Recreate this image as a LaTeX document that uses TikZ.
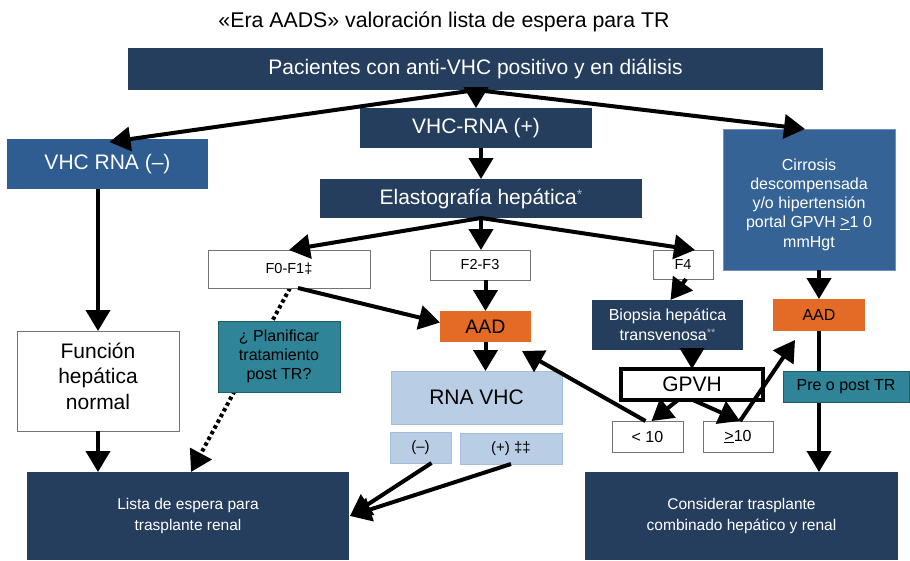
\documentclass[tikz,border=0pt]{standalone}
\usepackage{fontspec}
\setmainfont{Liberation Sans}
\usetikzlibrary{arrows.meta,calc,backgrounds}
\definecolor{navy}{HTML}{263E5E}
\definecolor{midblue}{HTML}{2F5D92}
\definecolor{cirblue}{HTML}{356395}
\definecolor{orng}{HTML}{E36B25}
\definecolor{teal}{HTML}{2F8498}
\definecolor{lblue}{HTML}{B9CDE5}
\definecolor{lbord}{HTML}{A6BEDC}
\newcommand\bx[7]{\node[#1,anchor=north west,minimum width=#5pt,minimum height=#6pt] (#2) at (#3,#4) {#7};}
\begin{document}
\begin{tikzpicture}[x=1pt,y=-1pt,
  base/.style={inner sep=0pt,outer sep=0pt,align=center},
  navybox/.style={base,fill=navy,text=white},
  midbox/.style={base,fill=midblue,text=white},
  cirbox/.style={base,fill=cirblue,text=white,draw=cirblue!70!white,line width=0.6pt},
  orgbox/.style={base,fill=orng,text=black},
  tealbox/.style={base,fill=teal,text=black,draw=teal!70!black,line width=0.6pt},
  lbbox/.style={base,fill=lblue,text=black,draw=lbord,line width=0.6pt},
  whbox/.style={base,fill=white,text=black,draw=black!55,line width=0.8pt},
  gpbox/.style={base,fill=white,text=black,draw=black,line width=3.5pt},
  txt/.style={base},
  arr/.style={line width=4pt,-{Triangle[length=21pt,width=24pt]}},
  dots/.style={line width=4pt,dash pattern=on 3.5pt off 3pt,-{Triangle[length=21pt,width=24pt]}},
  big/.style={font=\fontsize{21}{25.5}\selectfont},
  aadf/.style={font=\fontsize{19.5}{24}\selectfont},
  sm/.style={font=\fontsize{16}{19.3}\selectfont},
  fl/.style={font=\fontsize{14.5}{18}\selectfont},
  xs/.style={font=\fontsize{15.5}{21}\selectfont},
  xxs/.style={font=\fontsize{15}{18}\selectfont}]
\useasboundingbox (0,0) rectangle (910,560);
% title
\node[base,font=\fontsize{21.3}{24}\selectfont] (title) at (444,22) {«Era AADS» valoración lista de espera para TR};
% boxes
\bx{navybox,big}{pac}{128}{48}{695}{42}{\raisebox{-2pt}{Pacientes con anti-VHC positivo y en diálisis}}
\bx{navybox,big}{vhcp}{360}{108}{232}{40}{VHC-RNA (+)}
\bx{midbox,big}{vhcn}{7}{139}{201}{50}{VHC RNA (–)}
\bx{cirbox}{cir}{723}{129}{172}{141}{}
\node[txt,sm,text=white] (cirt) at ($(cir.center)+(0,5)$) {Cirrosis\\descompensada\\y/o hipertensión\\portal GPVH \underline{>}1 0\\mmHgt};
\bx{navybox,big}{elas}{320}{179}{322}{39}{Elastografía hepática\raisebox{5pt}{\color{white!62!navy}\fontsize{14}{14}\selectfont *}}
\bx{whbox,fl}{f01}{208}{250}{162}{38}{F0-F1‡}
\bx{whbox,fl}{f23}{430}{250}{100}{30}{F2-F3}
\bx{whbox,fl}{f4}{653}{250}{60}{29}{F4}
\bx{orgbox,aadf}{aad}{440}{311}{91}{31}{AAD}
\bx{navybox,sm}{biop}{592}{300}{151}{50}{Biopsia hepática\\[0.5pt]transvenosa\raisebox{4pt}{\color{white!62!navy}\fontsize{11}{11}\selectfont **}}
\bx{orgbox,sm}{aadr}{773}{299}{92}{32}{AAD}
\bx{whbox}{fun}{17}{331}{162}{100}{}
\node[txt,big] (funt) at ($(fun.center)+(0,-5)$) {Función\\hepática\\normal};
\bx{tealbox,sm}{plan}{218}{321}{122}{71}{¿ Planificar\\tratamiento\\post TR?}
\bx{lbbox,big}{rna}{391}{371}{171}{53}{RNA VHC}
\bx{gpbox,big}{gp}{621}{369}{142}{31}{GPVH}
\bx{tealbox,sm}{pre}{783}{371}{126}{31}{Pre o post TR}
\bx{lbbox,xxs}{neg}{390}{432}{61}{31}{(–)}
\bx{lbbox,xxs}{pos}{460}{433}{102}{31}{(+) ‡‡}
\bx{whbox,sm}{lt}{612}{421}{71}{31}{< 10}
\bx{whbox,sm}{ge}{703}{421}{70}{31}{\underline{>}10}
\bx{navybox,xs}{lista}{27}{472}{322}{88}{Lista de espera para\\trasplante renal}
\bx{navybox,xs}{cons}{585}{472}{313}{88}{Considerar trasplante\\combinado hepático y renal}
% lines behind boxes
\begin{scope}[on background layer]
\fill[white] (0,0) rectangle (910,560);
\draw[dots] ($(f01.south)+(1,0)$) -- ($(lista.north)+(3,0)$);
\draw[arr] (aadr.south) -- (aadr.south |- cons.north);
\end{scope}
% arrows
\coordinate (p0) at (pac.south -| vhcp.north);
\draw[arr] (p0) -- (vhcp.north);
\draw[arr] (p0) -- ($(vhcn.north)+(2,3)$);
\draw[arr] (p0) -- ($(cir.north)+(-4,0)$);
\draw[arr] (vhcp.south -| elas.north) -- (elas.north);
\coordinate (p1) at (elas.south);
\draw[arr] (p1) -- (f01.north);
\draw[arr] (p1) -- (p1 |- f23.north);
\draw[arr] (p1) -- ($(f4.north)+(12,0)$);
\draw[arr] ($(f01.south)+(9,0)$) -- ($(aad.west)+(0,-4)$);
\draw[arr] (f23.south -| aad.north) -- (aad.north);
\draw[arr] ($(f4.south)+(3,0)$) -- ($(biop.north)+(3,0)$);
\draw[arr] (aad.south) -- (aad.south |- rna.north);
\draw[arr] (biop.south -| gp.north) -- (gp.north);
\draw[arr] ($(gp.south)+(-14,0)$) -- ($(lt.north)+(4,0)$);
\draw[arr] ($(gp.south)+(1,0)$) -- ($(ge.north)+(2,0)$);
\draw[arr] ($(lt.north)+(-2,0)$) -- ($(aad.south east)+(-9,9)$);
\draw[arr] ($(ge.north)+(2,0)$) -- ($(aadr.south west)+(22,9)$);
\draw[arr] (cir.south -| aadr.north) -- (aadr.north);
\draw[arr] (vhcn.south -| fun.north) -- (fun.north);
\draw[arr] (fun.south) -- (lista.north -| fun.south);
\coordinate (tip) at ($(lista.east)+(1,0)$);
\draw[arr] ($(neg.south)+(11,0)$) -- (tip);
\draw[arr] (pos.south) -- (tip);
\end{tikzpicture}
\end{document}
